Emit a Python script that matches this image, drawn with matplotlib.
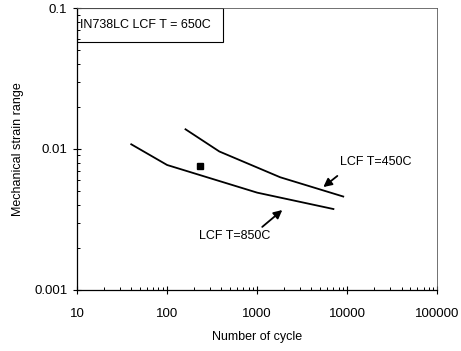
import matplotlib.pyplot as plt
from matplotlib.patches import Rectangle
from matplotlib.ticker import LogLocator, NullFormatter

# =========================================================
# Data
# =========================================================

cycles_450 = [160, 380, 1800, 9000]
strain_450 = [0.0138, 0.0096, 0.0063, 0.0046]

cycles_850 = [40, 100, 1000, 7000]
strain_850 = [0.0108, 0.0077, 0.0049, 0.00375]

cycles_650 = [232]
strain_650 = [0.0076]

x_ticks = [10, 100, 1000, 10000, 100000]
x_tick_labels = ["10", "100", "1000", "10000", "100000"]
y_ticks = [0.001, 0.01, 0.1]
y_tick_labels = ["0.001", "0.01", "0.1"]

# =========================================================
# Plot
# =========================================================

plt.rcParams["font.family"] = ["Liberation Sans", "DejaVu Sans"]

fig = plt.figure(figsize=(4.61, 3.51), dpi=100)
ax = fig.add_axes([0.167, 0.174, 0.782, 0.803])

ax.plot(cycles_450, strain_450, color="black", lw=1.3)
ax.plot(cycles_850, strain_850, color="black", lw=1.3)
ax.plot(cycles_650, strain_650, "s", color="black", ms=5)

ax.set_xscale("log")
ax.set_yscale("log")
ax.set_xlim(10, 100000)
ax.set_ylim(0.001, 0.1)

ax.set_xticks(x_ticks, x_tick_labels)
ax.set_yticks(y_ticks, y_tick_labels)
for axis in [ax.xaxis, ax.yaxis]:
    axis.set_minor_locator(LogLocator(base=10, subs=range(2, 10), numticks=20))
    axis.set_minor_formatter(NullFormatter())
ax.tick_params(which="major", direction="inout", length=6, width=0.8, labelsize=9.5, pad=4)
ax.tick_params(which="minor", direction="in", length=2.5, width=0.7)
ax.tick_params(axis="x", pad=10)

for side in ["top", "right"]:
    ax.spines[side].set_linewidth(0.6)
    ax.spines[side].set_color("0.35")
    ax.spines[side].set_linestyle((0, (3, 1)))
for side in ["left", "bottom"]:
    ax.spines[side].set_linewidth(0.9)

ax.set_xlabel("Number of cycle", fontsize=9, labelpad=8)
ax.set_ylabel("Mechanical strain range", fontsize=9, labelpad=7)

# title box in the top-left corner
ax.add_patch(Rectangle((0, 0.88), 0.405, 0.12, transform=ax.transAxes,
                       fill=False, edgecolor="black", lw=0.8))
ax.text(0.008, 0.94, "IN738LC LCF T = 650C", transform=ax.transAxes,
        ha="left", va="center", fontsize=9)

arrow = dict(arrowstyle="-|>,head_length=0.5,head_width=0.25", color="black",
             lw=1.3, shrinkA=0, shrinkB=0)
ax.annotate("", xy=(5410, 0.00537), xytext=(7740, 0.00644), arrowprops=arrow)
ax.text(8350, 0.00809, "LCF T=450C", ha="left", va="center", fontsize=9)
ax.annotate("", xy=(1897, 0.00369), xytext=(1136, 0.0028), arrowprops=arrow)
ax.text(555, 0.00242, "LCF T=850C", ha="center", va="center", fontsize=9)

plt.savefig("out.png", dpi=100)
